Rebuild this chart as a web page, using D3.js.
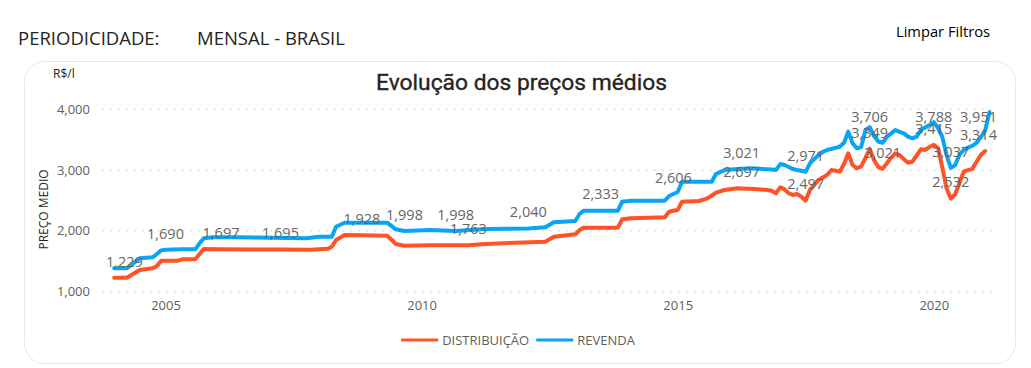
<!DOCTYPE html>
<html><head><meta charset="utf-8">
<script src="https://cdn.jsdelivr.net/npm/d3@7"></script>
<style>
body{margin:0;background:#fff;}
svg{display:block;font-family:"Open Sans",sans-serif;}
</style>
</head><body>
<svg id="chart" width="1031" height="368"></svg>
<script>
// ---------- DATA ----------
const seriesNames = ["DISTRIBUIÇÃO", "REVENDA"];
const seriesColors = ["#FF5226", "#08A4F5"];

const distribDates = ["2004-01","2004-04","2004-07","2004-10","2004-11","2004-12","2005-04","2005-05","2005-08","2005-09","2005-10","2006-02","2007-04","2007-11","2008-03","2008-04","2008-05","2008-07","2008-11","2009-05","2009-07","2009-09","2010-03","2010-12","2011-04","2012-06","2012-08","2013-01","2013-02","2013-03","2013-11","2013-12","2014-02","2014-10","2014-11","2014-12","2015-01","2015-02","2015-06","2015-08","2015-10","2015-12","2016-03","2016-04","2016-07","2016-10","2016-11","2016-12","2017-01","2017-02","2017-03","2017-04","2017-05","2017-06","2017-07","2017-08","2017-09","2017-10","2017-11","2017-12","2018-01","2018-02","2018-03","2018-04","2018-05","2018-06","2018-07","2018-08","2018-09","2018-10","2018-11","2018-12","2019-01","2019-02","2019-03","2019-04","2019-05","2019-06","2019-07","2019-08","2019-09","2019-10","2019-11","2019-12","2020-01","2020-02","2020-03","2020-04","2020-05","2020-06","2020-07","2020-08","2020-09","2020-10","2020-11","2020-12","2021-01"];
const distribValues = [1.229,1.229,1.357,1.385,1.423,1.510,1.510,1.533,1.533,1.620,1.702,1.697,1.695,1.690,1.705,1.740,1.850,1.932,1.928,1.921,1.785,1.757,1.765,1.763,1.785,1.822,1.905,1.944,2.015,2.053,2.053,2.191,2.207,2.224,2.316,2.332,2.345,2.480,2.492,2.536,2.628,2.673,2.700,2.697,2.689,2.673,2.660,2.618,2.717,2.684,2.620,2.590,2.607,2.560,2.497,2.673,2.760,2.837,2.880,2.919,3.002,2.990,2.974,3.100,3.276,3.084,3.029,3.060,3.200,3.349,3.166,3.050,3.021,3.112,3.200,3.276,3.248,3.180,3.122,3.138,3.240,3.342,3.331,3.380,3.415,3.359,3.050,2.700,2.532,2.600,2.783,2.974,3.000,3.020,3.138,3.248,3.314];

const revendaDates = ["2004-01","2004-04","2004-07","2004-10","2004-11","2004-12","2005-01","2005-05","2005-08","2005-09","2005-10","2005-12","2006-06","2007-06","2007-10","2008-01","2008-04","2008-05","2008-07","2009-05","2009-07","2009-09","2010-03","2010-09","2011-04","2012-02","2012-06","2012-08","2013-01","2013-02","2013-03","2013-07","2013-11","2013-12","2014-02","2014-10","2014-11","2014-12","2015-01","2015-02","2015-09","2015-10","2015-12","2016-04","2016-06","2016-11","2016-12","2017-01","2017-02","2017-04","2017-05","2017-06","2017-07","2017-08","2017-09","2017-10","2017-11","2017-12","2018-01","2018-03","2018-04","2018-05","2018-06","2018-07","2018-08","2018-09","2018-10","2018-11","2018-12","2019-01","2019-02","2019-03","2019-04","2019-05","2019-06","2019-07","2019-08","2019-09","2019-10","2019-11","2019-12","2020-01","2020-02","2020-03","2020-04","2020-05","2020-06","2020-07","2020-08","2020-09","2020-10","2020-11","2020-12","2021-01","2021-02"];
const revendaValues = [1.385,1.385,1.549,1.566,1.620,1.680,1.690,1.700,1.697,1.796,1.878,1.895,1.895,1.885,1.880,1.905,1.905,2.069,2.135,2.135,2.026,1.998,2.015,1.998,2.030,2.040,2.059,2.141,2.163,2.278,2.332,2.333,2.332,2.480,2.497,2.497,2.574,2.606,2.640,2.809,2.809,2.936,3.000,3.021,3.029,3.010,3.000,3.099,3.084,3.018,3.000,2.990,2.971,3.112,3.180,3.248,3.300,3.331,3.350,3.385,3.450,3.632,3.441,3.359,3.380,3.660,3.706,3.560,3.470,3.450,3.549,3.600,3.660,3.630,3.605,3.550,3.523,3.550,3.660,3.700,3.742,3.788,3.688,3.550,3.250,3.037,3.080,3.250,3.330,3.370,3.400,3.450,3.540,3.650,3.951];

// points that carry a data label
const distribLabelDates = ["2004-01","2006-02","2007-04","2008-11","2010-12","2016-04","2017-07","2018-10","2019-01","2020-01","2020-05","2021-01"];
const revendaLabelDates = ["2005-01","2009-09","2010-09","2012-02","2013-07","2014-12","2016-04","2017-07","2018-10","2020-01","2020-05","2021-02"];

const yTickValues = [1, 2, 3, 4];
const xTickYears = [2005, 2010, 2015, 2020];

const headerLeft = "PERIODICIDADE:";
const headerValue = "MENSAL - BRASIL";
const buttonText = "Limpar Filtros";
const chartTitle = "Evolução dos preços médios";
const unitText = "R$/l";
const yAxisTitle = "PREÇO MEDIO";

// ---------- DRAW ----------
const svg = d3.select("#chart");
const parse = d3.timeParse("%Y-%m");
const loc = d3.formatLocale({decimal: ",", thousands: ".", grouping: [3], currency: ["R$", ""]});
const fmt = loc.format(".3f");

const plot = {left: 102, right: 997, top: 109.3, bottom: 291.7};

const x = d3.scaleTime()
  .domain([new Date(2005, 0, 1), new Date(2020, 0, 1)])
  .range([165.5, 165.5 + 15 * 51.22]);
const y = d3.scaleLinear().domain([1, 4]).range([plot.bottom, plot.top]);

// header
svg.append("text").attr("x", 18).attr("y", 45).attr("font-size", 18.5).attr("fill", "#252423").text(headerLeft);
svg.append("text").attr("x", 197).attr("y", 45).attr("font-size", 18.5).attr("fill", "#252423").text(headerValue);
svg.append("text").attr("x", 896).attr("y", 37).attr("font-size", 14.7).attr("fill", "#000").text(buttonText);

// card
svg.append("rect").attr("x", 24.5).attr("y", 61.5).attr("width", 991).attr("height", 302)
  .attr("rx", 20).attr("fill", "#fff").attr("stroke", "#E6E6E6");

// title & unit
const title = svg.append("text").attr("x", 521.5).attr("y", 90).attr("text-anchor", "middle")
  .attr("font-family", "Roboto").attr("font-weight", 400).attr("font-size", 22)
  .attr("fill", "#252423").attr("stroke", "#252423").attr("stroke-width", 0.35).text(chartTitle);
const tw = title.node().getComputedTextLength();
title.attr("font-size", 22 * 291 / tw);
svg.append("text").attr("x", 53).attr("y", 78).attr("font-size", 12).attr("fill", "#252423").text(unitText);

// gridlines + y ticks
const yAxis = svg.append("g");
yTickValues.forEach(v => {
  yAxis.append("line").attr("x1", plot.left).attr("x2", plot.right)
    .attr("y1", y(v)).attr("y2", y(v))
    .attr("stroke", "#C8C6C4").attr("stroke-width", 1).attr("stroke-dasharray", "1.5,6.5");
  yAxis.append("text").attr("x", 90).attr("y", y(v)).attr("dy", "0.35em").attr("text-anchor", "end")
    .attr("font-size", 13).attr("fill", "#605E5C").text(fmt(v));
});
svg.append("text").attr("transform", `translate(48,${(plot.top + plot.bottom) / 2 + 9}) rotate(-90)`)
  .attr("text-anchor", "middle").attr("font-size", 12).attr("fill", "#252423").text(yAxisTitle);

// x axis
const xAxis = d3.axisBottom(x).tickValues(xTickYears.map(yv => new Date(yv, 0, 1)))
  .tickFormat(d3.timeFormat("%Y")).tickSize(0).tickPadding(0);
const gx = svg.append("g").attr("transform", `translate(0,${plot.bottom + 14})`).call(xAxis);
gx.select(".domain").remove();
gx.selectAll("text").attr("font-size", 13).attr("fill", "#605E5C").attr("font-family", "Open Sans").attr("dy", "0.32em");

// lines
const series = [
  {name: seriesNames[0], color: seriesColors[0], pts: distribDates.map((d, i) => ({d: parse(d), v: distribValues[i], k: d})), labels: distribLabelDates},
  {name: seriesNames[1], color: seriesColors[1], pts: revendaDates.map((d, i) => ({d: parse(d), v: revendaValues[i], k: d})), labels: revendaLabelDates}
];
const line = d3.line().x(p => x(p.d)).y(p => y(p.v)).curve(d3.curveLinear);
series.forEach(s => {
  svg.append("path").datum(s.pts).attr("d", line).attr("fill", "none")
    .attr("stroke", s.color).attr("stroke-width", 4).attr("stroke-linejoin", "round").attr("stroke-linecap", "round");
});

// data labels (kept inside the plot area)
series.forEach(s => {
  s.labels.forEach(k => {
    const p = s.pts.find(q => q.k === k);
    const cy = Math.max(y(p.v) - 16, 117);
    const t = svg.append("text").attr("font-size", 14.5).attr("fill", "#666666").attr("text-anchor", "middle")
      .attr("y", cy).attr("dy", "0.33em").text(fmt(p.v));
    const w = t.node().getComputedTextLength();
    let cx = x(p.d);
    cx = Math.max(cx, 106 + w / 2);
    cx = Math.min(cx, 997 - w / 2);
    t.attr("x", cx);
  });
});

// legend
const lg = svg.append("g");
let lx = 0;
series.forEach((s, i) => {
  lg.append("line").attr("x1", lx).attr("x2", lx + 37).attr("y1", 0).attr("y2", 0)
    .attr("stroke", s.color).attr("stroke-width", 3);
  const t = lg.append("text").attr("x", lx + 41).attr("y", 0).attr("dy", "0.35em")
    .attr("font-size", 13).attr("fill", "#605E5C").text(s.name);
  lx += 41 + t.node().getComputedTextLength() + 7;
});
lg.attr("transform", `translate(${518 - (lx - 7) / 2},340)`);
</script>
</body></html>
